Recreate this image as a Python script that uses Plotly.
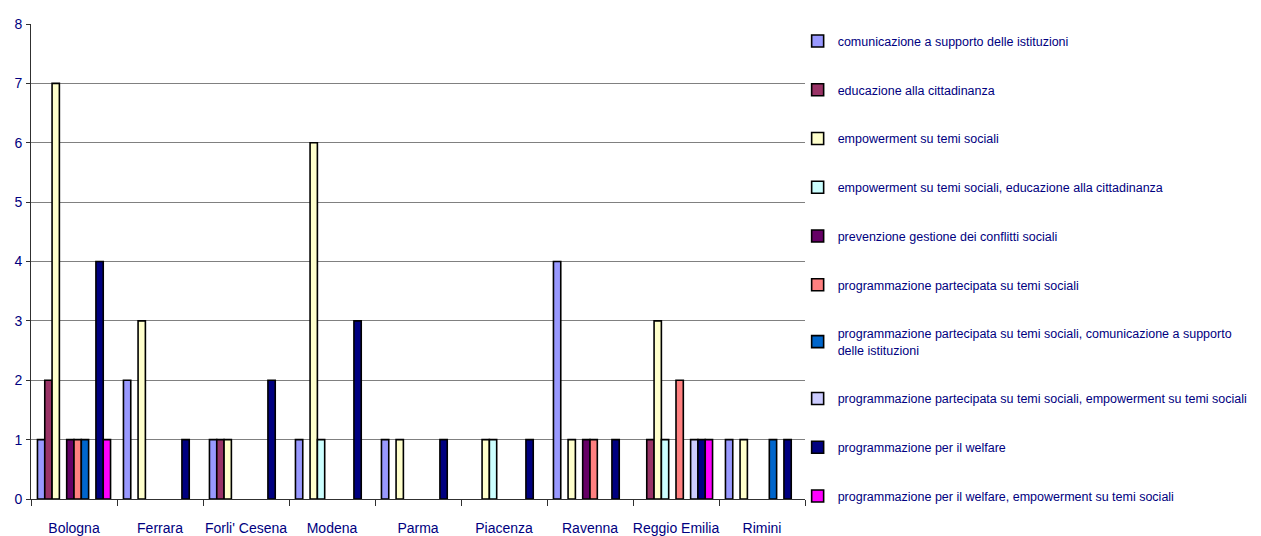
import plotly.graph_objects as go

categories = ["Bologna", "Ferrara", "Forli' Cesena", "Modena", "Parma",
              "Piacenza", "Ravenna", "Reggio Emilia", "Rimini"]

series_names = [
    "comunicazione a supporto delle istituzioni",
    "educazione alla cittadinanza",
    "empowerment su temi sociali",
    "empowerment su temi sociali, educazione alla cittadinanza",
    "prevenzione gestione dei conflitti sociali",
    "programmazione partecipata su temi sociali",
    "programmazione partecipata su temi sociali, comunicazione a supporto<br>delle istituzioni",
    "programmazione partecipata su temi sociali, empowerment su temi sociali",
    "programmazione per il welfare",
    "programmazione per il welfare, empowerment su temi sociali",
]

series_colors = ["#9999FF", "#993366", "#FFFFCC", "#CCFFFF", "#660066",
                 "#FF8080", "#0066CC", "#CCCCFF", "#000080", "#FF00FF"]

# values per series, ordered as categories
comunicazione = [1, 2, 1, 1, 1, 0, 4, 0, 1]
educazione = [2, 0, 1, 0, 0, 0, 0, 1, 0]
empowerment = [7, 3, 1, 6, 1, 1, 1, 3, 1]
empowerment_educazione = [0, 0, 0, 1, 0, 1, 0, 1, 0]
prevenzione = [1, 0, 0, 0, 0, 0, 1, 0, 0]
prog_partecipata = [1, 0, 0, 0, 0, 0, 1, 2, 0]
prog_part_comunicazione = [1, 0, 0, 0, 0, 0, 0, 0, 1]
prog_part_empowerment = [0, 0, 0, 0, 0, 0, 0, 1, 0]
welfare = [4, 1, 2, 3, 1, 1, 1, 1, 1]
welfare_empowerment = [1, 0, 0, 0, 0, 0, 0, 1, 0]

series_values = [comunicazione, educazione, empowerment, empowerment_educazione,
                 prevenzione, prog_partecipata, prog_part_comunicazione,
                 prog_part_empowerment, welfare, welfare_empowerment]

y_ticks = [0, 1, 2, 3, 4, 5, 6, 7, 8]

NAVY = "#000080"
FONT = "Liberation Sans, Arial, sans-serif"

fig = go.Figure()
for i, (name, vals, col) in enumerate(zip(series_names, series_values, series_colors)):
    fig.add_trace(go.Bar(
        x=categories,
        y=[v if v else None for v in vals],
        name=name,
        legendgroup=f"g{i}",
        marker=dict(color=col, line=dict(color="#000000", width=1.6)),
    ))

fig.update_layout(
    width=1261, height=536,
    margin=dict(l=23, r=464, t=16, b=45, autoexpand=False),
    paper_bgcolor="white", plot_bgcolor="white",
    barmode="group", bargap=0.15, bargroupgap=0,
    font=dict(family=FONT, color=NAVY),
    legend=dict(
        x=0.9905, xanchor="left", y=0.995, yanchor="top",
        maxheight=525,
        font=dict(size=12.5, family=FONT, color=NAVY),
        tracegroupgap=29.5,
        bgcolor="rgba(0,0,0,0)",
        itemclick=False, itemdoubleclick=False,
    ),
    showlegend=True,
)

fig.update_xaxes(
    showline=True, linecolor="#303030", linewidth=1,
    ticks="outside", tickson="boundaries", ticklen=6, tickcolor="#303030",
    tickfont=dict(size=14, family=FONT, color=NAVY),
    tickangle=0,
    ticklabelstandoff=16,
    showgrid=False,
)
fig.update_yaxes(
    range=[0, 8], tickvals=y_ticks,
    showline=True, linecolor="#303030", linewidth=1,
    ticks="outside", ticklen=4, tickcolor="#303030",
    tickfont=dict(size=14, family=FONT, color=NAVY),
    ticklabelstandoff=1,
    showgrid=True, gridcolor="#808080", gridwidth=1,
    zeroline=False,
)

fig.write_html("out.html")
